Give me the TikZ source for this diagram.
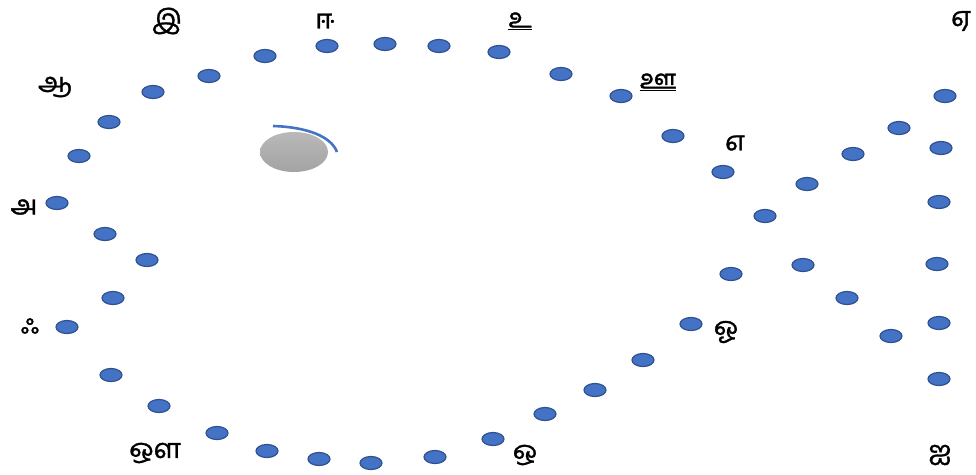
\documentclass[tikz,border=0pt]{standalone}
\usepackage{fontspec}
\newfontfamily\tamil[Script=Tamil,FakeBold=1.2]{Hind Madurai}
\usetikzlibrary{shapes.geometric}
\definecolor{dotfill}{RGB}{68,114,196}
\definecolor{dotline}{RGB}{47,82,143}
\tikzset{
  dot/.style={ellipse, draw=dotline, fill=dotfill, line width=1.2pt, minimum width=22pt, minimum height=13pt, inner sep=0pt},
  letter/.style={font=\tamil\fontsize{27}{30}\selectfont, inner sep=0pt, anchor=center}
}
\begin{document}
\begin{tikzpicture}[x=1pt,y=-1pt]
\useasboundingbox (0,0) rectangle (976,474);
\foreach \x/\y [count=\i] in {265/56,327/46,385/44,439/46,499/52,561/74,621/96,673/136,723/172,765/216,807/184,853/154,899/128,945/96,941/148,939/202,937/264,939/323,939/379,731/274,803/265,847/298,891/336,691/324,643/360,595/390,545/414,493/439,435/457,371/463,319/459,267/451,217/433,159/406,111/375,67/327,113/298,147/260,105/234,57/203,79/156,109/122,153/92,209/76}
  \node[dot] (d\i) at (\x,\y) {};
\node[ellipse, minimum width=68pt, minimum height=40pt, inner sep=0pt, top color=gray!55, bottom color=gray!72, draw=none] (blob) at (294,152) {};
\coordinate (arcA) at (273,126);
\coordinate (arcB) at (337,152);
\draw[dotfill, line width=2.6pt] (arcA) .. controls (306,127) and (331,136) .. (arcB);
\node[letter] (l1) at (167,21) {இ};
\node[letter] (l2) at (325,21) {ஈ};
\node[letter] (l3) at (520,21) {\underline{உ}};
\node[letter] (l4) at (961,21) {ஏ};
\node[letter] (l5) at (55,87) {ஆ};
\node[letter] (l6) at (658,82) {\underline{ஊ}};
\node[letter] (l7) at (735,143) {எ};
\node[letter] (l8) at (24,207) {அ};
\node[letter] (l9) at (30,326) {ஃ};
\node[letter] (l10) at (155,453) {ஔ};
\node[letter] (l11) at (525,455) {ஒ};
\node[letter] (l12) at (726,332) {ஓ};
\node[letter] (l13) at (940,455) {ஐ};
\end{tikzpicture}
\end{document}
